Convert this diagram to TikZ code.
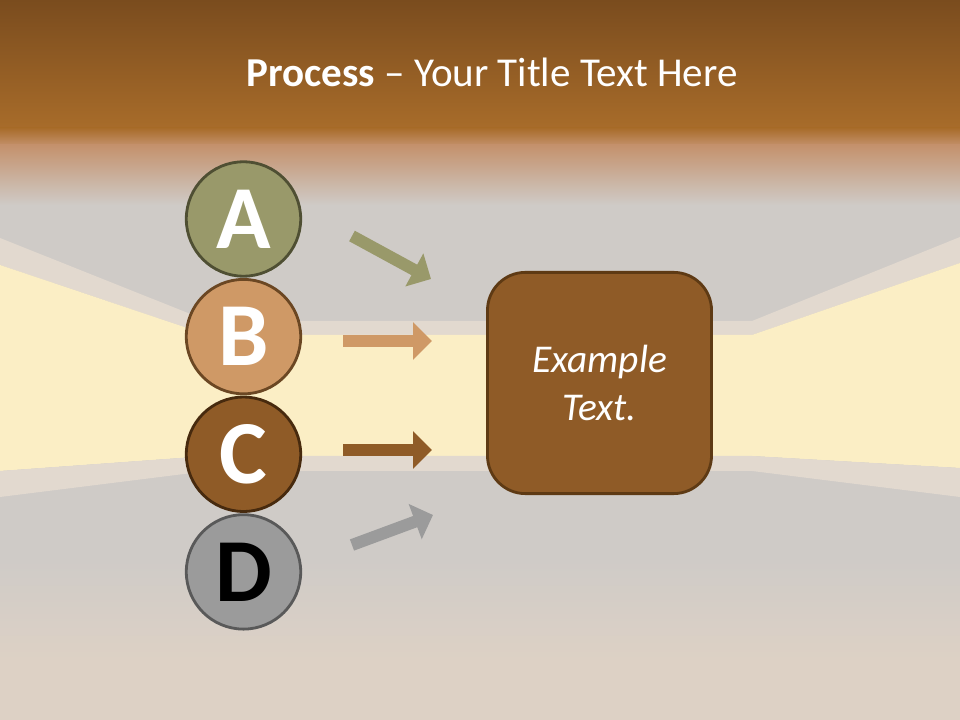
\documentclass[tikz,border=0pt]{standalone}
\usepackage{fontspec}
\setmainfont{Carlito}
\usetikzlibrary{positioning}
\usetikzlibrary{arrows.meta}
\definecolor{tonea}{HTML}{99996A}
\definecolor{toneb}{HTML}{CF9966}
\definecolor{tonec}{HTML}{8F5B27}
\definecolor{toned}{HTML}{9B9B9B}
\definecolor{rima}{HTML}{4F4F33}
\definecolor{rimb}{HTML}{6B4723}
\definecolor{rimc}{HTML}{472A0E}
\definecolor{rimd}{HTML}{595959}
\definecolor{boxrim}{HTML}{5E3A14}
\definecolor{topbrown}{HTML}{7A4C1E}
\definecolor{midbrown}{HTML}{A86C2A}
\definecolor{salmon}{HTML}{C4916C}
\definecolor{ceiling}{HTML}{CFCBC7}
\definecolor{molding}{HTML}{E2D9CF}
\definecolor{wall}{HTML}{FBEEC5}
\definecolor{floorwood}{HTML}{DDD1C5}

\begin{document}
\begin{tikzpicture}[x=0.025cm,y=-0.025cm,node distance=2.94cm,on grid,
		letter/.style={circle,line width=2pt,minimum size=2.86cm,inner sep=0pt,text=white,
			font=\fontsize{64pt}{64pt}\selectfont\bfseries},
		blockarrow/.style={line width=8.5pt,-{Triangle[width=26pt,length=13.5pt]}},
		textbox/.style={rectangle,rounded corners=0.95cm,fill=tonec,draw=boxrim,line width=2pt,
			minimum width=5.6cm,minimum height=5.53cm,text=white,align=center,
			font=\fontsize{28pt}{34pt}\selectfont\itshape}]
		\useasboundingbox (0,0) rectangle (960,720);
		% room behind the diagram
		\fill[ceiling] (0,0) rectangle (960,720);
		\shade[top color=topbrown,bottom color=midbrown] (0,0) rectangle (960,129);
		\shade[top color=midbrown,bottom color=salmon] (0,128) rectangle (960,146);
		\shade[top color=salmon,bottom color=ceiling] (0,145) rectangle (960,205);
		\fill[molding] (0,238) -- (208,321) -- (752,321) -- (960,237) -- (960,263) -- (752,335) -- (208,335) -- (0,265) -- cycle;
		\fill[wall] (0,265) -- (208,335) -- (752,335) -- (960,263) -- (960,468) -- (752,456) -- (208,456) -- (0,471) -- cycle;
		\fill[molding] (0,471) -- (208,456) -- (752,456) -- (960,468) -- (960,497) -- (752,471) -- (208,471) -- (0,497) -- cycle;
		\shade[top color=ceiling,bottom color=floorwood] (0,560) rectangle (960,660);
		\fill[floorwood] (0,659) rectangle (960,720);
		
		\node[text=white,anchor=base,font=\fontsize{29.2pt}{34pt}\selectfont] (title) at (492,87) {\textbf{Process} -- Your Title Text Here};
		
		\node[letter,fill=tonea,draw=rima]  (a)     at (243.5,219)      {A};
		\node[letter,fill=toneb,draw=rimb]  (b)     [below=of a]        {B};
		\node[letter,fill=tonec,draw=rimc]  (c)     [below=of b]        {C};
		\node[letter,fill=toned,draw=rimd,text=black] (d) [below=of c] {D};
		
		\node[textbox] (info) at (599.5,383) {Example\\Text.};
		
		\coordinate (a-tail) at (352,236);
		\coordinate (a-tip)  at (431,279);
		\coordinate (b-tail) at (343,341);
		\coordinate (b-tip)  at (432,341);
		\coordinate (c-tail) at (343,450);
		\coordinate (c-tip)  at (432,450);
		\coordinate (d-tail) at (352,545);
		\coordinate (d-tip)  at (433,515);
		
		\path[blockarrow]
		(a-tail) edge[draw=tonea,fill=tonea] (a-tip)
		(b-tail) edge[draw=toneb,fill=toneb] (b-tip)
		(c-tail) edge[draw=tonec,fill=tonec] (c-tip)
		(d-tail) edge[draw=toned,fill=toned] (d-tip);
\end{tikzpicture}
\end{document}
